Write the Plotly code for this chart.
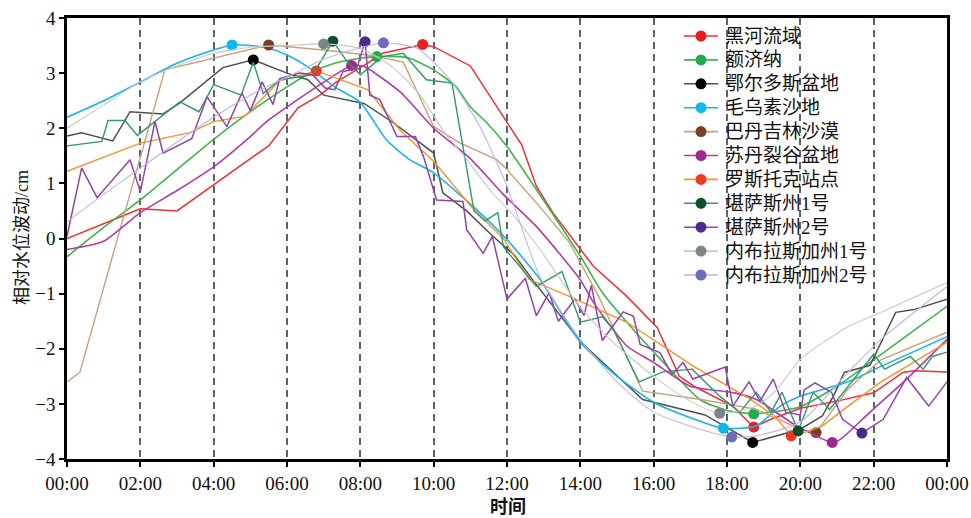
import numpy as np
import plotly.graph_objects as go

# ---------------- data (hours since 00:00, relative water level in cm) ----------------
heihe_t = [0, 1, 2, 3, 4, 5, 5.5, 6.3, 6.9, 7.3, 8.2, 8.6, 9.7, 10.0, 11.0, 11.6, 12.0, 12.4, 12.8, 13.25, 14.35, 15.27, 16.1, 16.5, 16.7, 17.1, 18.15, 18.73, 19.2, 20.0, 21.0, 22.0, 22.8, 23.1, 24]
heihe_v = [0.0, 0.27, 0.54, 0.5, 0.98, 1.45, 1.68, 2.37, 2.6, 2.82, 3.18, 3.36, 3.52, 3.48, 3.13, 2.52, 2.1, 1.7, 0.95, 0.47, -0.5, -1.05, -1.62, -2.2, -2.5, -2.68, -3.04, -3.42, -3.28, -3.08, -2.95, -2.8, -2.43, -2.4, -2.42]

ejina_t = [0, 1, 2, 3, 4, 5, 6, 6.7, 7.3, 8.0, 8.45, 9.3, 10.0, 10.6, 11.0, 11.45, 12.0, 12.8, 14.0, 14.6, 15.27, 16.1, 17.26, 18.0, 18.73, 19.2, 20.0, 21.0, 22.0, 24]
ejina_v = [-0.33, 0.2, 0.7, 1.25, 1.8, 2.3, 2.75, 3.03, 3.18, 3.27, 3.3, 3.28, 3.06, 2.76, 2.39, 2.1, 1.67, 0.89, -0.32, -0.98, -1.52, -2.13, -2.92, -3.12, -3.18, -3.15, -3.05, -2.68, -2.2, -1.23]

ordos_t = [0, 0.4, 1.25, 1.72, 2.62, 3.08, 4.25, 5.08, 6.0, 6.57, 7.0, 8.1, 8.9, 10.0, 10.25, 10.9, 11.6, 12.2, 12.7, 14.0, 15.7, 17.4, 18.7, 20.0, 20.6, 20.9, 21.2, 21.9, 22.6, 23.1, 24]
ordos_v = [1.86, 1.92, 1.77, 2.3, 2.26, 2.46, 3.1, 3.24, 3.0, 2.88, 2.6, 2.45, 2.1, 1.55, 0.83, 0.5, 0.05, -0.3, -0.75, -1.87, -2.92, -3.2, -3.7, -3.46, -3.22, -2.86, -2.43, -2.3, -1.34, -1.29, -1.1]

muus_t = [0, 1, 2, 3, 4, 4.5, 5, 5.5, 6, 6.6, 7.3, 8, 8.7, 9.3, 10, 11.26, 12, 12.9, 14, 15, 16, 17, 17.9, 18.8, 19.45, 20, 21.3, 22.2, 24]
muus_v = [2.2, 2.5, 2.84, 3.18, 3.42, 3.51, 3.5, 3.45, 3.33, 3.1, 2.75, 2.47, 1.8, 1.45, 1.19, 0.47, -0.02, -0.74, -1.88, -2.5, -2.97, -3.25, -3.44, -3.4, -3.04, -2.86, -2.6, -2.32, -1.78]

badain_t = [0, 0.35, 2.67, 5.5, 7.0, 8.2, 9.17, 10.0, 10.7, 11.72, 12.0, 12.8, 13.7, 14.2, 14.5, 15.7, 17.3, 18.8, 20.0, 20.43, 21.3, 22.2, 24]
badain_v = [-2.6, -2.43, 3.06, 3.51, 3.42, 3.33, 3.2, 2.03, 1.74, 1.43, 1.25, 0.65, -0.07, -0.69, -1.05, -2.77, -2.92, -3.1, -3.46, -3.52, -2.73, -2.2, -1.7]

sudan_t = [0, 1, 2, 3, 4, 5, 5.5, 6.9, 7.76, 8.1, 9.1, 10, 11, 11.9, 12.8, 14, 14.35, 15.27, 16, 17, 18.2, 18.8, 19.9, 20.87, 21.1, 21.9, 22.9, 24]
sudan_v = [-0.2, -0.05, 0.47, 0.87, 1.3, 1.85, 2.15, 2.79, 3.14, 3.12, 2.65, 2.0, 1.45, 0.8, 0.22, -0.75, -1.15, -1.95, -2.25, -2.68, -2.8, -2.92, -3.4, -3.7, -3.64, -3.15, -2.55, -1.83]

rostock_t = [0, 2, 3.35, 4, 4.85, 5.8, 6.8, 8.2, 9.1, 10, 11, 11.9, 12.6, 13.7, 15.27, 17.07, 18.6, 19.3, 19.75, 20, 20.6, 21.3, 22.2, 24]
rostock_v = [1.22, 1.73, 1.92, 2.12, 2.22, 2.86, 3.04, 2.7, 1.95, 1.4, 0.6, 0.0, -0.74, -1.05, -1.52, -2.31, -2.9, -3.22, -3.58, -3.55, -3.4, -3.04, -2.6, -1.88]

kansas1_t = [0, 0.95, 1.12, 1.58, 1.92, 3.08, 3.6, 4.0, 4.75, 5.08, 5.35, 5.8, 6.7, 7.25, 7.65, 8.0, 8.6, 9.17, 9.8, 10.5, 11.1, 11.4, 11.75, 11.9, 12.8, 13.5, 14.0, 14.6, 14.9, 15.6, 16.25, 17.05, 17.8, 18.35, 18.8, 19.2, 19.5, 19.94, 20.35, 20.8, 22.0, 22.3, 23.0, 23.35, 23.6, 24]
kansas1_v = [1.68, 1.76, 2.14, 2.14, 1.87, 2.48, 2.3, 2.79, 2.6, 3.2, 2.63, 2.88, 2.97, 3.58, 3.2, 2.97, 3.3, 3.36, 2.88, 2.82, 0.5, 0.32, 0.47, -0.15, -0.87, -0.6, -1.52, -1.42, -1.65, -2.6, -2.42, -2.37, -2.86, -3.15, -2.79, -3.15, -2.79, -3.49, -2.79, -3.1, -2.1, -2.37, -2.14, -2.37, -2.14, -2.06]

kansas2_t = [0, 0.4, 0.82, 1.72, 2.0, 2.4, 2.62, 3.4, 3.82, 4.36, 4.77, 5.0, 5.32, 5.62, 5.8, 6.35, 6.7, 7.04, 7.3, 7.53, 7.9, 8.13, 8.26, 8.53, 9.0, 9.5, 9.72, 10.08, 10.8, 10.9, 11.35, 11.6, 12.0, 12.5, 12.8, 13.15, 13.4, 13.85, 14.1, 14.3, 14.6, 15.17, 15.45, 15.63, 16.17, 16.5, 16.8, 17.07, 17.95, 18.16, 18.6, 18.9, 19.26, 19.6, 20.0, 20.1, 20.4, 20.85, 21.15, 21.68, 22.26, 22.9, 23.5, 24]
kansas2_v = [0.04, 1.28, 0.74, 1.43, 0.85, 2.12, 1.55, 1.81, 2.57, 2.03, 2.64, 2.32, 2.84, 2.43, 2.9, 3.0, 2.97, 2.73, 2.7, 3.03, 3.08, 3.57, 2.6, 2.52, 1.85, 1.85, 1.49, 0.7, 0.67, 0.16, -0.27, 0.04, -1.1, -0.72, -1.4, -0.98, -1.5, -1.1, -1.4, -0.85, -1.85, -1.33, -1.41, -1.92, -2.07, -2.47, -2.25, -2.55, -2.33, -3.04, -2.6, -2.95, -2.55, -3.15, -3.2, -2.75, -2.62, -2.79, -3.28, -3.53, -3.28, -2.52, -3.04, -2.6]

nebr1_t = [0, 1, 2, 3, 4, 5, 6, 7, 8, 8.9, 9.63, 10.25, 10.9, 11.6, 12.2, 12.9, 14, 15, 16.1, 17.0, 17.8, 18.8, 19.36, 20, 21.3, 22.2, 24]
nebr1_v = [2.0, 2.42, 2.85, 3.13, 3.36, 3.47, 3.5, 3.53, 3.45, 3.1, 2.6, 1.97, 1.43, 0.83, 0.4, -0.2, -1.25, -1.95, -2.55, -2.95, -3.17, -3.04, -2.74, -2.19, -1.6, -1.34, -0.8]

nebr2_t = [0, 1, 2, 3, 4, 5, 6, 7, 8, 8.63, 9.55, 10.45, 11.26, 12, 12.9, 14, 15, 16, 17.26, 18.13, 18.8, 20, 21.3, 22.2, 24]
nebr2_v = [0.3, 0.8, 1.28, 1.75, 2.2, 2.6, 2.93, 3.25, 3.46, 3.55, 3.45, 2.88, 2.03, 0.95, -0.7, -1.83, -2.6, -3.15, -3.46, -3.6, -3.58, -3.33, -2.43, -1.83, -0.87]

names = ["黑河流域", "额济纳", "鄂尔多斯盆地", "毛乌素沙地", "巴丹吉林沙漠", "苏丹裂谷盆地",
         "罗斯托克站点", "堪萨斯州1号", "堪萨斯州2号", "内布拉斯加州1号", "内布拉斯加州2号"]

tick_hours = list(range(0, 25, 2))
tick_labels = ["00:00", "02:00", "04:00", "06:00", "08:00", "10:00", "12:00",
               "14:00", "16:00", "18:00", "20:00", "22:00", "00:00"]

# ---------------- styles ----------------
series = [
    (heihe_t, heihe_v, "#ee2f34", "#ec1c24", 1.5, "linear"),
    (ejina_t, ejina_v, "#3fb54b", "#1fae4b", 1.6, "spline"),
    (ordos_t, ordos_v, "#505050", "#000000", 1.5, "linear"),
    (muus_t, muus_v, "#1cb2ec", "#12b6ef", 1.6, "spline"),
    (badain_t, badain_v, "#c9a07c", "#7a3f1f", 1.4, "linear"),
    (sudan_t, sudan_v, "#b63aa4", "#9e2a8e", 1.6, "spline"),
    (rostock_t, rostock_v, "#f7922f", "#ef3a23", 1.4, "linear"),
    (kansas1_t, kansas1_v, "#2e9a6b", "#0b4f2b", 1.4, "linear"),
    (kansas2_t, kansas2_v, "#9343a8", "#4c2a8d", 1.5, "linear"),
    (nebr1_t, nebr1_v, "#c8c8c8", "#7b8585", 1.1, "spline"),
    (nebr2_t, nebr2_v, "#b9b7e6", "#6d6cba", 1.1, "spline"),
]

fig = go.Figure()
for name, (t, v, lc, mc, lw, shape) in zip(names, series):
    v_arr = np.array(v)
    sizes = np.zeros(len(v_arr))
    sizes[int(np.argmax(v_arr))] = 11
    sizes[int(np.argmin(v_arr))] = 11
    fig.add_trace(go.Scatter(
        x=t, y=v, name=name, mode="lines+markers", showlegend=False,
        line=dict(color=lc, width=lw, shape=shape, smoothing=0.6),
        marker=dict(color=mc, size=sizes.tolist(), opacity=1, line=dict(width=0)),
    ))

# ---------------- manual legend (paper coordinates) ----------------
PLOT_L, PLOT_R, PLOT_T, PLOT_B = 67, 947, 18, 459
def px_x(p):
    return (p - PLOT_L) / (PLOT_R - PLOT_L)
def px_y(p):
    return (PLOT_B - p) / (PLOT_B - PLOT_T)

shapes = []
annotations = []
leg_line_x0, leg_line_x1, leg_mark_x, leg_text_x = 684, 718, 701, 723
leg_y0, leg_dy = 36, 23.9
label_font = "Liberation Serif, Noto Sans CJK SC"
for i, (name, (t, v, lc, mc, lw, shape)) in enumerate(zip(names, series)):
    yy = px_y(leg_y0 + i * leg_dy)
    shapes.append(dict(type="line", xref="paper", yref="paper",
                       x0=px_x(leg_line_x0), x1=px_x(leg_line_x1), y0=yy, y1=yy,
                       line=dict(color=lc, width=1.6)))
    shapes.append(dict(type="circle", xref="paper", yref="paper",
                       xsizemode="pixel", ysizemode="pixel",
                       xanchor=px_x(leg_mark_x), yanchor=yy,
                       x0=-5.5, x1=5.5, y0=-5.5, y1=5.5,
                       fillcolor=mc, line=dict(width=0)))
    annotations.append(dict(text=name, xref="paper", yref="paper",
                            x=px_x(leg_text_x), y=yy, xanchor="left", yanchor="middle",
                            showarrow=False, font=dict(family=label_font, size=19, color="#111")))

# axis titles
annotations.append(dict(text="相对水位波动/cm", xref="paper", yref="paper",
                        x=px_x(22), y=px_y(238), textangle=-90, showarrow=False,
                        xanchor="center", yanchor="middle",
                        font=dict(family=label_font, size=18, color="#111")))
annotations.append(dict(text="<b>时间</b>", xref="paper", yref="paper",
                        x=px_x(508), y=px_y(505), showarrow=False,
                        xanchor="center", yanchor="middle",
                        font=dict(family="Noto Sans CJK SC", size=18, color="#111")))

fig.update_layout(
    width=971, height=518,
    margin=dict(l=67, r=24, t=18, b=59, autoexpand=False),
    paper_bgcolor="white", plot_bgcolor="white",
    font=dict(family=label_font, size=18, color="#111"),
    showlegend=False,
    shapes=shapes, annotations=annotations,
)
fig.update_xaxes(
    range=[0, 24], tickvals=tick_hours, ticktext=tick_labels, automargin=False,
    showline=True, linecolor="black", linewidth=2.5, mirror=True,
    ticks="outside", ticklen=5, tickwidth=2, tickcolor="black",
    tickfont=dict(family="Liberation Serif", size=19, color="#111"),
    showgrid=True, gridcolor="#5c6468", gridwidth=1.5, griddash="7px,5px",
    zeroline=False,
)
fig.update_yaxes(
    range=[-4, 4], tickvals=list(range(-4, 5)), automargin=False,
    showline=True, linecolor="black", linewidth=2.5, mirror=True,
    ticks="outside", ticklen=5, tickwidth=2, tickcolor="black",
    tickfont=dict(family="Liberation Serif", size=19, color="#111"),
    showgrid=False, zeroline=False,
)

fig.write_html("out.html", config={"displayModeBar": False},
               post_script="document.body.style.margin='0';")
